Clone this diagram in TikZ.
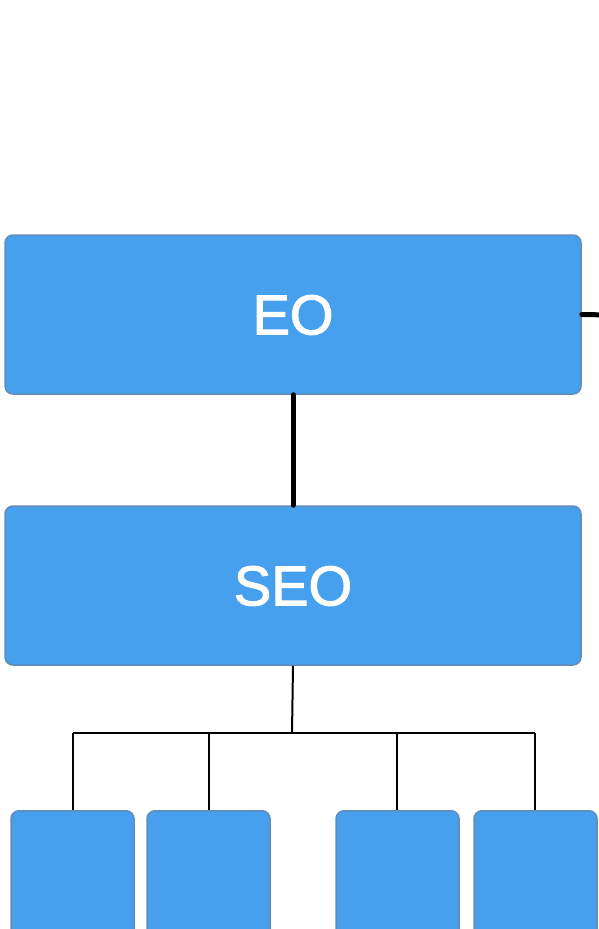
\documentclass[tikz,border=0pt]{standalone}
\usepackage{fontspec}
\setmainfont{Liberation Sans}
\newfontfamily\lblfont[FakeBold=2]{Liberation Sans}
\definecolor{boxfill}{RGB}{70,160,238}
\definecolor{boxedge}{RGB}{100,140,185}
\begin{document}
\begin{tikzpicture}[x=1pt,y=-1pt,
  bluebox/.style={draw=boxedge,line width=1.5pt,fill=boxfill,rounded corners=8pt,inner sep=0pt,minimum width=576pt,minimum height=159pt},
  smallbox/.style={draw=boxedge,line width=1.5pt,fill=boxfill,rounded corners=8pt,inner sep=0pt,minimum width=123pt,minimum height=159pt,anchor=north},
  thick conn/.style={line width=5pt,line cap=round},
  thin conn/.style={line width=2pt},
  lbl/.style={text=white,font=\lblfont\fontsize{56}{60}\selectfont}]
\clip (0,0) rectangle (599,929);
\fill[white] (0,0) rectangle (599,929);
% main boxes
\node[bluebox] (eo) at (293,314.5) {};
\node[bluebox] (seo) at (293,585.5) {};
\node[lbl] (eotxt) at (293,315) {EO};
\node[lbl] (seotxt) at (293,586) {SEO};
% small boxes
\node[smallbox] (s1) at (72.5,810) {};
\node[smallbox] (s2) at (208.5,810) {};
\node[smallbox] (s3) at (397.5,810) {};
\node[smallbox] (s4) at (535.5,810) {};
% connectors
\coordinate (offright) at (610,315);
\draw[thick conn] (eo.east) -- (offright);
\draw[thick conn] (eo.south) -- (seo.north);
\coordinate (hub) at (292,733);
\coordinate (h1) at (73,733);
\coordinate (h2) at (209,733);
\coordinate (h3) at (397,733);
\coordinate (h4) at (535,733);
\draw[thin conn] (seo.south) -- (hub);
\draw[thin conn] (h1) -- (h4);
\draw[thin conn] (h1) -- (h1 |- s1.north);
\draw[thin conn] (h2) -- (h2 |- s2.north);
\draw[thin conn] (h3) -- (h3 |- s3.north);
\draw[thin conn] (h4) -- (h4 |- s4.north);
\end{tikzpicture}
\end{document}
